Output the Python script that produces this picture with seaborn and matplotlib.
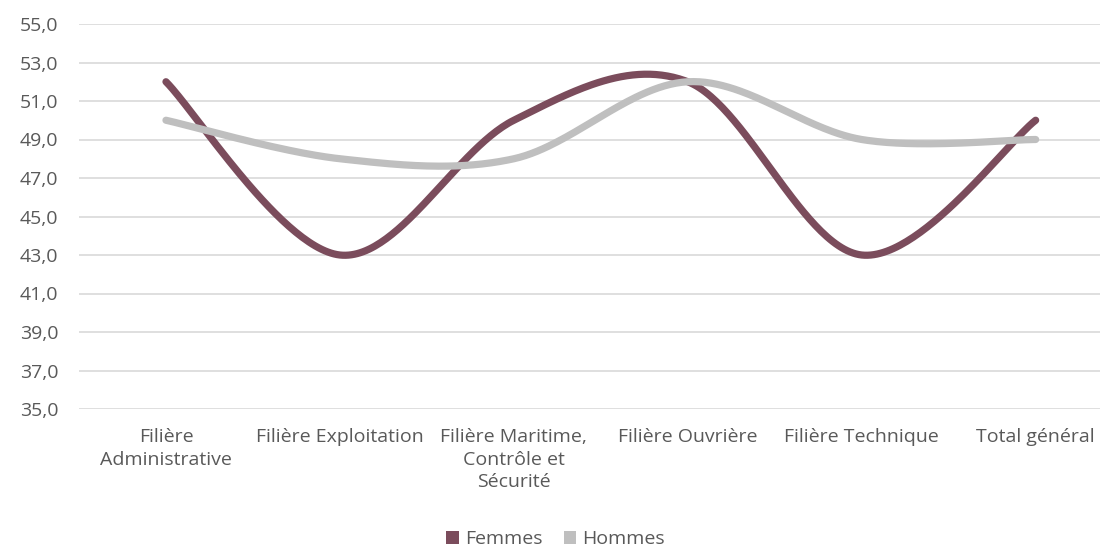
import numpy as np
import pandas as pd
import matplotlib
matplotlib.use("Agg")
import matplotlib.pyplot as plt
import seaborn as sns
from matplotlib.patches import Patch

categories = ["Filière\nAdministrative", "Filière Exploitation",
              "Filière Maritime,\nContrôle et\nSécurité", "Filière Ouvrière",
              "Filière Technique", "Total général"]
femmes = [52.0, 43.0, 50.0, 52.0, 43.0, 50.0]
hommes = [50.0, 48.0, 48.0, 52.0, 49.0, 49.0]
series_names = ["Femmes", "Hommes"]
colors = {"Femmes": "#7b4c5c", "Hommes": "#bfbfbf"}
yticks = [35, 37, 39, 41, 43, 45, 47, 49, 51, 53, 55]


def smooth(values, n=60):
    """Catmull-Rom curve through the data points (Excel-like smoothed line)."""
    p = np.asarray(values, dtype=float)
    x = np.arange(len(p), dtype=float)
    P = np.concatenate([[p[0]], p, [p[-1]]])
    X = np.concatenate([[x[0]], x, [x[-1]]])
    xs, ys = [], []
    for i in range(1, len(P) - 2):
        t = np.linspace(0, 1, n, endpoint=(i == len(P) - 3))
        for arr, out in ((X, xs), (P, ys)):
            p0, p1, p2, p3 = arr[i - 1], arr[i], arr[i + 1], arr[i + 2]
            m1 = (p2 - p0) / 2.0
            m2 = (p3 - p1) / 2.0
            h00 = 2 * t**3 - 3 * t**2 + 1
            h10 = t**3 - 2 * t**2 + t
            h01 = -2 * t**3 + 3 * t**2
            h11 = t**3 - t**2
            out.extend(h00 * p1 + h10 * m1 + h01 * p2 + h11 * m2)
    return np.array(xs), np.array(ys)


frames = []
for name, vals in zip(series_names, [femmes, hommes]):
    sx, sy = smooth(vals)
    frames.append(pd.DataFrame({"x": sx, "y": sy, "serie": name}))
df = pd.concat(frames, ignore_index=True)

sns.set_theme(style="white")
plt.rcParams["font.family"] = ["Open Sans", "DejaVu Sans"]

fig = plt.figure(figsize=(11, 5.47), dpi=100)
ax = fig.add_axes([79 / 1100, 1 - 409 / 547, 1 - 79 / 1100, (409 - 24) / 547])

for yv in yticks:
    ax.axhline(yv, color="#d9d9d9", lw=1.2, zorder=0)

sns.lineplot(data=df, x="x", y="y", hue="serie", palette=colors, sort=False,
             estimator=None, lw=5.2, ax=ax, legend=False,
             hue_order=series_names)
for line in ax.get_lines():
    line.set_solid_capstyle("round")

ax.set_xlim(-0.5, 5.37)
ax.set_ylim(35, 55)
ax.set_yticks(yticks)
ax.set_yticklabels([f"{v:.1f}".replace(".", ",") for v in yticks])
ax.set_xticks(range(len(categories)))
ax.set_xticklabels(categories, linespacing=1.32)
ax.tick_params(axis="both", length=0, labelsize=14, colors="#595959")
ax.tick_params(axis="x", pad=14)
ax.tick_params(axis="y", pad=15)
ax.set_xlabel("")
ax.set_ylabel("")
for s in ax.spines.values():
    s.set_visible(False)

handles = [Patch(facecolor=colors[n], edgecolor="none", label=n) for n in series_names]
fig.legend(handles=handles, loc="center", bbox_to_anchor=(0.505, 1 - 539 / 547),
           ncol=2, frameon=False, fontsize=14, handlelength=0.65, handleheight=0.65,
           handletextpad=0.3, columnspacing=1.1, labelcolor="#595959")

fig.savefig("out.png", dpi=100)
